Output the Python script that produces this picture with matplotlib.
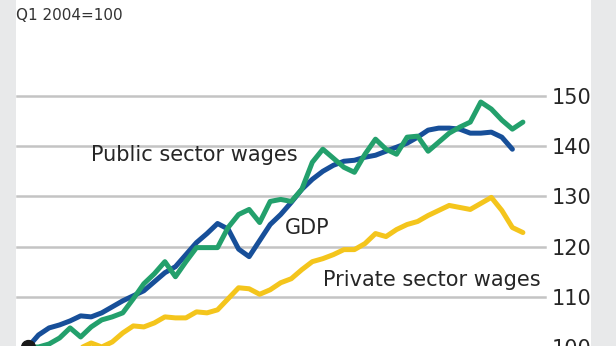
import matplotlib.pyplot as plt
from matplotlib.patches import Rectangle

# Quarterly index, Q1 2004 = 100
quarters = list(range(48))
gdp = [100.0, 102.4, 103.8, 104.4, 105.2, 106.2, 106.0, 106.8, 108.0, 109.2,
       110.2, 111.2, 113.0, 114.8, 116.0, 118.4, 120.8, 122.6, 124.6, 123.5,
       119.5, 118.0, 121.2, 124.4, 126.4, 128.8, 131.4, 133.4, 135.0, 136.2,
       137.0, 137.2, 137.8, 138.2, 139.0, 139.8, 140.6, 141.8, 143.2, 143.6,
       143.6, 143.4, 142.6, 142.6, 142.8, 141.8, 139.4]
public = [100.0, 100.0, 100.6, 101.8, 103.8, 102.0, 104.0, 105.4, 106.0, 106.8,
          109.6, 112.6, 114.6, 117.0, 114.0, 117.0, 119.8, 119.8, 119.8, 123.8,
          126.4, 127.4, 124.8, 129.0, 129.4, 129.0, 131.4, 136.8, 139.4, 137.6,
          135.8, 134.8, 138.4, 141.4, 139.4, 138.4, 141.8, 142.0, 139.0, 140.8,
          142.6, 143.8, 144.8, 148.8, 147.4, 145.2, 143.4, 144.8]
private = [100.0, 99.8, 99.6, 99.8, 99.5, 99.8, 100.8, 100.0, 101.0, 102.8,
           104.2, 104.0, 104.8, 106.0, 105.8, 105.8, 107.0, 106.8, 107.4, 109.6,
           111.8, 111.6, 110.5, 111.4, 112.8, 113.6, 115.4, 117.0, 117.6, 118.4,
           119.4, 119.4, 120.6, 122.6, 122.0, 123.4, 124.4, 125.0, 126.2, 127.2,
           128.2, 127.8, 127.4, 128.6, 129.8, 127.2, 123.8, 122.8]
yticks = [100, 110, 120, 130, 140, 150]

W, H = 616, 346
fig = plt.figure(figsize=(W / 100, H / 100), dpi=100)
fig.patch.set_facecolor('white')

# grey side margins
fig.add_artist(Rectangle((0, 0), 16 / W, 1, transform=fig.transFigure,
                         color='#e8e9ea', lw=0))
fig.add_artist(Rectangle((591 / W, 0), 25 / W, 1, transform=fig.transFigure,
                         color='#e8e9ea', lw=0))

# axes placed in pixels: x=0 at px 28, 10.53 px per quarter; 100 at px 347, 150 at px 96
px_q = 10.53
x0 = -(28 - 17) / px_q
x1 = (545 - 28) / px_q
ax = fig.add_axes([17 / W, -1 / H, 528 / W, 251 / H])
ax.set_xlim(x0, x1)
ax.set_ylim(100, 150)
ax.set_facecolor('none')
for s in ax.spines.values():
    s.set_visible(False)
ax.set_xticks([])

for v in yticks[1:]:
    ax.axhline(v, color='#c4c4c4', lw=1.8, zorder=1, clip_on=False)
ax.axhline(100, color='#e8a49a', lw=2, zorder=1, clip_on=False)

ax.plot(quarters[:len(private)], private, color='#f4c51c', lw=3.6,
        solid_joinstyle='round', solid_capstyle='round', zorder=3, clip_on=False)
ax.plot(quarters[:len(gdp)], gdp, color='#174f99', lw=3.6,
        solid_joinstyle='round', solid_capstyle='round', zorder=4, clip_on=False)
ax.plot(quarters[:len(public)], public, color='#23a06c', lw=3.6,
        solid_joinstyle='round', solid_capstyle='round', zorder=5, clip_on=False)
ax.plot([0], [100], 'o', color='#1a1a1a', ms=10, zorder=6, clip_on=False)

ax.yaxis.tick_right()
ax.set_yticks(yticks)
ax.set_yticklabels([str(v) for v in yticks])
ax.tick_params(axis='y', length=0, pad=5, labelsize=15, labelcolor='#262626')

lab = dict(fontsize=15, color='#262626', family=['Liberation Sans Narrow', 'DejaVu Sans'],
           va='center')
ax.text(6, 138.2, 'Public sector wages', **lab)
ax.text(24.4, 123.8, 'GDP', **lab)
ax.text(28, 113.4, 'Private sector wages', **lab)

fig.text(16 / W, 1 - 15 / H, 'Q1 2004=100', fontsize=11, color='#333333',
         va='center', ha='left', family=['Liberation Sans Narrow', 'DejaVu Sans'])

fig.savefig('out.png', dpi=100)
